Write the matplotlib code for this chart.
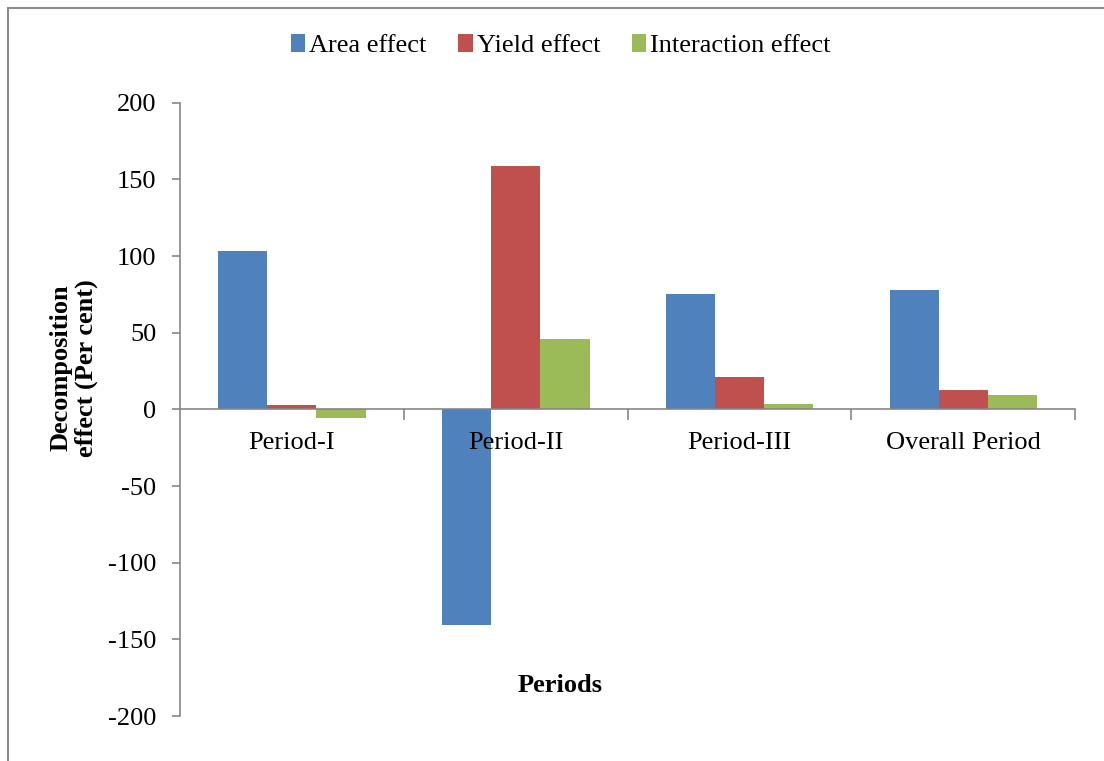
import numpy as np
import matplotlib.pyplot as plt
from matplotlib.patches import Rectangle

# decomposition data
periods = ["Period-I", "Period-II", "Period-III", "Overall Period"]
area_effect = [103, -140.5, 75.5, 78]
yield_effect = [3, 159, 21, 12.5]
interaction_effect = [-5.5, 46, 3.5, 9.5]

series = [
    ("Area effect", area_effect, "#4f81bd"),
    ("Yield effect", yield_effect, "#c0504d"),
    ("Interaction effect", interaction_effect, "#9bbb59"),
]

plt.rcParams['font.family'] = ['Liberation Serif', 'DejaVu Serif']
plt.rcParams['axes.unicode_minus'] = False

fig = plt.figure(figsize=(11.04, 7.61), dpi=100)
ax = fig.add_axes([0.163, 0.059, 0.811, 0.806])

x = np.arange(len(periods))
w = 0.22
for i, (name, vals, col) in enumerate(series):
    ax.bar(x + (i - 1) * w, vals, w, color=col, label=name)

ax.set_xlim(-0.5, len(periods) - 0.5)
ax.set_ylim(-200, 200)
ax.set_yticks(np.arange(-200, 201, 50))

axis_col = "#868686"
for s in ["top", "right"]:
    ax.spines[s].set_visible(False)
ax.spines["bottom"].set_position(("data", 0))
ax.spines["bottom"].set_color(axis_col)
ax.spines["left"].set_color(axis_col)
ax.spines["bottom"].set_linewidth(1.2)
ax.spines["left"].set_linewidth(1.2)

ax.set_xticks(x)
ax.set_xticklabels(periods, fontsize=19)
ax.set_xticks(np.arange(0.5, len(periods), 1), minor=True)
ax.tick_params(axis="x", which="major", length=0, pad=16)
ax.tick_params(axis="x", which="minor", length=8, color=axis_col, width=1.2)
ax.tick_params(axis="y", length=6, color=axis_col, width=1.2, labelsize=19, pad=11)

ax.set_ylabel("Decomposition\neffect (Per cent)", fontsize=19, fontweight="bold",
              linespacing=1.1)
ax.yaxis.set_label_coords(-0.092, 0.568)
fig.text(0.507, 0.099, "Periods", fontsize=19, fontweight="bold", ha="center", va="center")

ax.legend(loc="center", bbox_to_anchor=(0.508, 0.94), bbox_transform=fig.transFigure,
          ncol=3, frameon=False, fontsize=19, handlelength=0.55, handleheight=0.65,
          handletextpad=0.15, columnspacing=1.2)

fig.patches.append(Rectangle((0.007, -0.05), 1.1, 1.04, transform=fig.transFigure,
                             fill=False, edgecolor="#8c8c8c", linewidth=1.5))

fig.savefig("out.png", dpi=100)
